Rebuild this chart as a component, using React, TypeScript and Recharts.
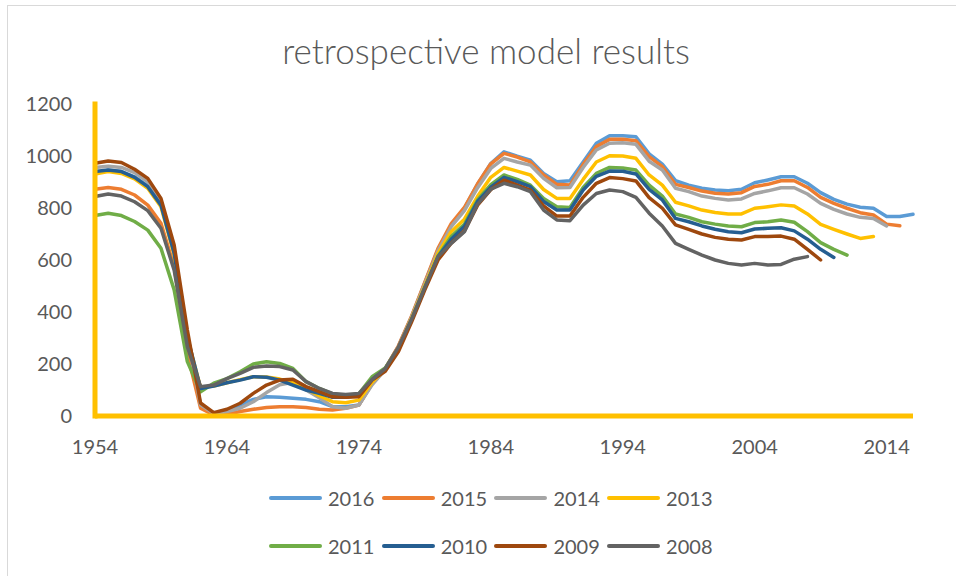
import { LineChart, Line, XAxis, YAxis } from "recharts"

// categories
const years = [
  1954, 1955, 1956, 1957, 1958, 1959, 1960, 1961, 1962, 1963,
  1964, 1965, 1966, 1967, 1968, 1969, 1970, 1971, 1972, 1973,
  1974, 1975, 1976, 1977, 1978, 1979, 1980, 1981, 1982, 1983,
  1984, 1985, 1986, 1987, 1988, 1989, 1990, 1991, 1992, 1993,
  1994, 1995, 1996, 1997, 1998, 1999, 2000, 2001, 2002, 2003,
  2004, 2005, 2006, 2007, 2008, 2009, 2010, 2011, 2012, 2013,
  2014, 2015, 2016,
]
const xTicks = [1954, 1964, 1974, 1984, 1994, 2004, 2014]
const yTicks = [0, 200, 400, 600, 800, 1000, 1200]

// one array per retrospective run, starting at 1954
const run2016 = [
  935, 945, 940, 920, 885, 815, 630, 300, 40, 7,
  20, 42, 64, 74, 72, 68, 64, 55, 36, 36,
  42, 125, 182, 268, 382, 512, 640, 733, 800, 892,
  971, 1016, 999, 984, 933, 901, 905, 977, 1049, 1078,
  1078, 1074, 1008, 969, 905, 888, 876, 869, 866, 872,
  897, 908, 920, 920, 895, 859, 833, 815, 803, 799,
  767, 767, 776,
]
const run2015 = [
  872, 879, 872, 850, 811, 741, 574, 241, 30, 4,
  7, 17, 26, 33, 36, 36, 33, 26, 23, 30,
  42, 125, 182, 270, 385, 515, 645, 740, 802, 893,
  970, 1010, 996, 977, 927, 891, 888, 968, 1036, 1064,
  1064, 1059, 998, 959, 891, 879, 865, 857, 854, 859,
  883, 891, 905, 905, 879, 841, 818, 799, 782, 773,
  738, 732,
]
const run2014 = [
  956, 961, 956, 936, 901, 824, 638, 305, 43, 10,
  17, 30, 55, 90, 120, 130, 100, 70, 36, 30,
  42, 120, 178, 265, 380, 508, 635, 728, 790, 878,
  952, 991, 977, 965, 914, 878, 879, 956, 1023, 1049,
  1051, 1045, 980, 946, 876, 863, 846, 837, 831, 835,
  856, 866, 878, 878, 854, 818, 795, 777, 764, 760,
  731,
]
const run2013 = [
  931, 940, 933, 912, 876, 805, 620, 300, 110, 115,
  128, 140, 151, 150, 142, 128, 105, 78, 55, 51,
  61, 130, 180, 262, 375, 500, 625, 709, 757, 845,
  918, 956, 942, 927, 871, 837, 837, 910, 977, 1001,
  1000, 991, 927, 888, 822, 808, 792, 783, 777, 777,
  799, 805, 812, 808, 777, 737, 718, 700, 683, 690,
]
const run2011 = [
  771, 780, 771, 748, 715, 645, 485, 209, 93, 126,
  144, 170, 200, 209, 202, 183, 132, 106, 85, 80,
  85, 151, 185, 262, 372, 495, 615, 690, 737, 831,
  890, 927, 910, 888, 837, 805, 802, 879, 933, 956,
  954, 946, 888, 846, 777, 764, 747, 738, 731, 728,
  744, 747, 754, 745, 709, 667, 641, 619,
]
const run2010 = [
  940, 946, 940, 918, 882, 811, 626, 305, 106, 115,
  128, 138, 151, 149, 138, 119, 100, 87, 72, 72,
  80, 140, 180, 258, 370, 492, 612, 680, 730, 825,
  880, 918, 901, 882, 825, 792, 792, 869, 922, 942,
  941, 931, 872, 831, 760, 747, 731, 718, 709, 705,
  719, 722, 724, 712, 680, 641, 610,
]
const run2009 = [
  972, 981, 975, 949, 914, 837, 658, 331, 50, 13,
  26, 49, 87, 119, 138, 141, 113, 94, 74, 72,
  74, 138, 172, 248, 362, 485, 600, 665, 712, 811,
  871, 907, 888, 869, 808, 769, 769, 841, 895, 917,
  913, 904, 840, 799, 735, 718, 700, 687, 680, 677,
  690, 690, 692, 680, 641, 600,
]
const run2008 = [
  844, 854, 846, 824, 790, 722, 561, 267, 113, 119,
  144, 164, 187, 192, 190, 177, 132, 106, 87, 83,
  87, 140, 182, 265, 372, 495, 613, 664, 709, 815,
  872, 895, 882, 863, 792, 754, 751, 811, 856, 869,
  863, 841, 780, 731, 664, 641, 619, 600, 587, 581,
  587, 581, 583, 603, 613,
]

const seriesNames = ["2016", "2015", "2014", "2013", "2011", "2010", "2009", "2008"]
const seriesValues = [run2016, run2015, run2014, run2013, run2011, run2010, run2009, run2008]
const seriesColors = ["#5B9BD5", "#ED7D31", "#A5A5A5", "#FFC000", "#70AD47", "#255E91", "#9E480E", "#636363"]

const data = years.map((year, i) => {
  const row: any = { year }
  seriesNames.forEach((name, s) => {
    row[name] = seriesValues[s][i] ?? null
  })
  return row
})

const FONT = "Lato, 'Open Sans', sans-serif"
const TEXT = "#595959"
const AXIS = "#FFC000"

function LegendBlock() {
  return (
    <>
      {seriesNames.map((name, i) => {
        const col = i % 4
        const row = Math.floor(i / 4)
        const left = 269 + col * 112.7
        const top = 498 + row * 48
        return (
          <div key={name} style={{ position: "absolute", left, top: top - 14, height: 28, display: "flex", alignItems: "center" }}>
            <div style={{ width: 53, height: 3.5, borderRadius: 2, background: seriesColors[i] }} />
            <span style={{ marginLeft: 6, fontSize: 20, color: TEXT, lineHeight: "28px" }}>{name}</span>
          </div>
        )
      })}
    </>
  )
}

export default function App() {
  return (
    <div style={{ position: "fixed", left: 0, top: 0, width: 956, height: 576, background: "#fff", overflow: "hidden", fontFamily: FONT }}>
      <div style={{ position: "absolute", left: 7, top: 5, width: 1000, height: 1000, borderLeft: "1.5px solid #d9d9d9", borderTop: "1.5px solid #d9d9d9" }} />
      <div style={{ position: "absolute", left: 0, width: 972, top: 29, lineHeight: "42px", textAlign: "center", fontSize: 35, color: TEXT, fontWeight: 300 }}>
        retrospective model results
      </div>
      <LineChart
        width={956}
        height={576}
        data={data}
        margin={{ top: 104, right: 43, bottom: 130, left: 15 }}
        style={{ position: "absolute", left: 0, top: 0 }}
      >
        <XAxis
          dataKey="year"
          type="number"
          domain={[1954, 2016]}
          ticks={xTicks}
          interval={0}
          tickLine={false}
          axisLine={{ stroke: AXIS, strokeWidth: 5 }}
          tick={{ fill: TEXT, fontSize: 20, fontFamily: FONT }}
          tickMargin={18}
          height={30}
        />
        <YAxis
          domain={[0, 1200]}
          ticks={yTicks}
          interval={0}
          tickLine={false}
          axisLine={{ stroke: AXIS, strokeWidth: 5, strokeLinecap: "square" }}
          tick={{ fill: TEXT, fontSize: 20, fontFamily: FONT }}
          tickMargin={17}
          width={80}
        />
        {seriesNames.map((name, i) => (
          <Line
            key={name}
            type="linear"
            dataKey={name}
            stroke={seriesColors[i]}
            strokeWidth={3.5}
            strokeLinejoin="round"
            strokeLinecap="round"
            dot={false}
            activeDot={false}
            isAnimationActive={false}
          />
        ))}
      </LineChart>
      <LegendBlock />
    </div>
  )
}
